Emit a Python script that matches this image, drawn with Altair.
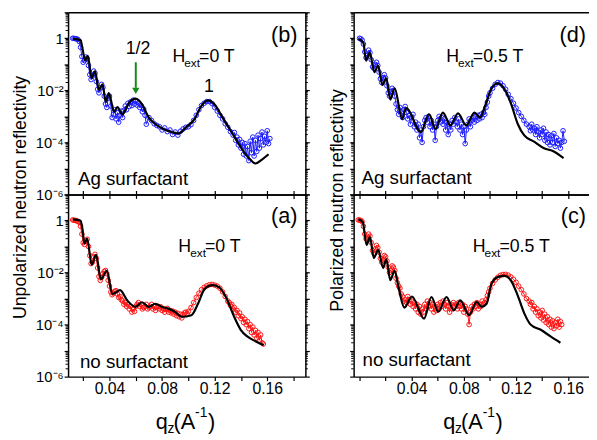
import altair as alt
import pandas as pd

FONT = "Liberation Sans"
BLUE = "#1c1cff"
RED = "#ff1414"
GREEN = "#168a16"

# ---------------- data (q in 1/A, reflectivity) ----------------
b_data = [
    (0.012, 1.0), (0.013, 0.99), (0.014, 0.97), (0.015, 0.95), (0.016, 0.9), (0.017, 0.75),
    (0.018, 0.45), (0.019, 0.2), (0.020, 0.12), (0.021, 0.14), (0.022, 0.19), (0.023, 0.17),
    (0.024, 0.09), (0.025, 0.04), (0.026, 0.026), (0.027, 0.035), (0.028, 0.055), (0.029, 0.045),
    (0.030, 0.022), (0.031, 0.011), (0.032, 0.008), (0.033, 0.012), (0.034, 0.017), (0.035, 0.013),
    (0.036, 0.006), (0.037, 0.003), (0.038, 0.0022), (0.039, 0.005), (0.040, 0.006), (0.041, 0.0025),
    (0.042, 0.0009), (0.043, 0.0012), (0.044, 0.0018), (0.045, 0.0008), (0.046, 0.0014), (0.047, 0.0006),
    (0.048, 0.0011), (0.049, 0.0016), (0.050, 0.0009), (0.051, 0.0017), (0.052, 0.0025), (0.053, 0.0018),
    (0.054, 0.0032), (0.055, 0.0024), (0.056, 0.0036), (0.057, 0.0026), (0.058, 0.0042), (0.059, 0.003),
    (0.060, 0.0038), (0.061, 0.0027), (0.062, 0.0033), (0.063, 0.0022), (0.064, 0.0026), (0.065, 0.0015),
    (0.066, 0.0019), (0.067, 0.0011), (0.068, 0.0005), (0.070, 0.0009), (0.072, 0.0007), (0.074, 0.00052),
    (0.076, 0.00045), (0.078, 0.0004), (0.080, 0.0003), (0.082, 0.00036), (0.084, 0.00026), (0.086, 0.0003),
    (0.088, 0.0002), (0.090, 0.00025), (0.092, 0.00019), (0.094, 0.00027), (0.096, 0.00033), (0.098, 0.00038),
    (0.100, 0.0004), (0.102, 0.00048), (0.104, 0.0007), (0.106, 0.0011), (0.108, 0.0018), (0.110, 0.0026),
    (0.112, 0.0032), (0.114, 0.0037), (0.116, 0.0037), (0.118, 0.0031), (0.120, 0.0022), (0.122, 0.0016),
    (0.124, 0.0011), (0.126, 0.0008), (0.128, 0.00052), (0.130, 0.00038), (0.132, 0.00026), (0.134, 0.00019),
    (0.135, 0.00024), (0.136, 0.00012), (0.137, 0.00016), (0.138, 0.00008), (0.139, 0.00013), (0.140, 0.00006),
    (0.141, 0.0001), (0.142, 0.000035), (0.143, 0.00009), (0.144, 0.00003), (0.145, 0.00007), (0.146, 0.00002),
    (0.147, 0.00011), (0.148, 0.00004), (0.149, 0.00016), (0.150, 0.00003), (0.151, 0.00012), (0.152, 0.000045),
    (0.153, 0.00019), (0.154, 0.00006), (0.155, 0.00014), (0.156, 0.00025), (0.157, 0.00008), (0.158, 0.00017),
    (0.159, 0.0001), (0.160, 0.00028), (0.161, 0.00009), (0.162, 0.00014),
]
b_fit = [
    (0.0122, 0.95), (0.0150, 0.93), (0.0180, 0.84), (0.0195, 0.4), (0.0215, 0.14), (0.0235, 0.21),
    (0.0265, 0.029), (0.0290, 0.054), (0.0320, 0.0105), (0.0347, 0.017), (0.0372, 0.0036), (0.0395, 0.0079),
    (0.0435, 0.0015), (0.0460, 0.0023), (0.0498, 0.0012), (0.0548, 0.0033), (0.0598, 0.0048), (0.0648, 0.0029),
    (0.0698, 0.00091), (0.0748, 0.00051), (0.0810, 0.00033), (0.0873, 0.00025), (0.0923, 0.00022),
    (0.0985, 0.00039), (0.1048, 0.0008), (0.1098, 0.0025), (0.1148, 0.0041), (0.1198, 0.0029),
    (0.1260, 0.00091), (0.1335, 0.00022), (0.1398, 0.000065), (0.1460, 0.000025), (0.1510, 0.0000155),
    (0.1560, 0.000022), (0.1610, 0.000035),
]

d_data = [
    (0.000, 1.0), (0.001, 0.95), (0.002, 0.85), (0.003, 0.6), (0.004, 0.3), (0.005, 0.18), (0.006, 0.22),
    (0.007, 0.35), (0.008, 0.28), (0.009, 0.15), (0.010, 0.08), (0.011, 0.07), (0.012, 0.1), (0.013, 0.12),
    (0.014, 0.09), (0.015, 0.05), (0.016, 0.028), (0.017, 0.02), (0.018, 0.03), (0.019, 0.04), (0.020, 0.03),
    (0.021, 0.015), (0.022, 0.008), (0.023, 0.006), (0.024, 0.009), (0.025, 0.012), (0.026, 0.01),
    (0.027, 0.006), (0.028, 0.003), (0.029, 0.0018), (0.030, 0.0012), (0.031, 0.0022), (0.032, 0.0015),
    (0.033, 0.0009), (0.034, 0.0018), (0.035, 0.0024), (0.036, 0.0014), (0.037, 0.0008), (0.038, 0.0011),
    (0.039, 0.0005), (0.040, 0.0009), (0.041, 0.0012), (0.042, 0.0004), (0.043, 0.0006), (0.044, 0.0003),
    (0.045, 0.0005), (0.046, 0.00015), (0.047, 0.0003), (0.048, 0.0001), (0.049, 0.0004), (0.050, 0.0007),
    (0.051, 0.0009), (0.052, 0.0006), (0.053, 0.001), (0.054, 0.0004), (0.055, 0.0007), (0.056, 0.0003),
    (0.057, 0.0005), (0.058, 0.00012), (0.059, 0.0004), (0.060, 0.0007), (0.061, 0.001), (0.062, 0.0006),
    (0.063, 0.0009), (0.064, 0.0005), (0.065, 0.0008), (0.066, 0.0003), (0.067, 0.0006), (0.068, 0.0002),
    (0.069, 0.0005), (0.070, 0.0003), (0.071, 0.0007), (0.072, 0.0005), (0.073, 0.0009), (0.074, 0.0006),
    (0.075, 0.0004), (0.076, 0.0008), (0.077, 0.0003), (0.078, 0.0005), (0.079, 0.0002), (0.080, 0.0004),
    (0.081, 0.00009), (0.082, 0.0003), (0.083, 0.0005), (0.084, 0.0008), (0.085, 0.0004), (0.086, 0.0007),
    (0.087, 0.0009), (0.088, 0.0006), (0.089, 0.001), (0.090, 0.0007), (0.091, 0.0011), (0.092, 0.0008),
    (0.093, 0.0012), (0.094, 0.0009), (0.095, 0.0014), (0.096, 0.0012), (0.097, 0.0022), (0.098, 0.0035),
    (0.099, 0.006), (0.100, 0.008), (0.102, 0.012), (0.104, 0.017), (0.106, 0.02), (0.108, 0.019),
    (0.110, 0.015), (0.112, 0.011), (0.114, 0.007), (0.116, 0.0048), (0.118, 0.0032), (0.120, 0.0021),
    (0.122, 0.0014), (0.124, 0.001), (0.126, 0.0007), (0.128, 0.0005), (0.130, 0.0004), (0.131, 0.00028),
    (0.132, 0.0005), (0.133, 0.0003), (0.134, 0.00035), (0.135, 0.0002), (0.136, 0.0004), (0.137, 0.00025),
    (0.138, 0.00015), (0.139, 0.0003), (0.140, 0.0002), (0.141, 0.00035), (0.142, 0.00012), (0.143, 0.00025),
    (0.144, 0.0001), (0.145, 0.0002), (0.146, 0.00008), (0.147, 0.00018), (0.148, 0.0001), (0.149, 0.00022),
    (0.150, 0.00007), (0.151, 0.00015), (0.152, 0.00009), (0.153, 0.00012), (0.154, 0.00006), (0.155, 0.0001),
    (0.156, 0.00028), (0.157, 0.00011),
]
d_fit = [
    (-0.0008, 0.94), (0.0030, 0.67), (0.0050, 0.137), (0.0079, 0.28), (0.0114, 0.05), (0.0143, 0.09),
    (0.0176, 0.016), (0.0206, 0.029), (0.0236, 0.0044), (0.0269, 0.012), (0.0327, 0.0008), (0.0357, 0.0021),
    (0.0470, 0.00025), (0.0533, 0.0012), (0.0583, 0.00033), (0.0639, 0.0014), (0.0697, 0.00045),
    (0.0755, 0.0013), (0.0818, 0.00045), (0.0881, 0.0014), (0.0924, 0.0009), (0.0962, 0.0025),
    (0.1012, 0.012), (0.1062, 0.0186), (0.1113, 0.0105), (0.1163, 0.0029), (0.1213, 0.00051),
    (0.1263, 0.000186), (0.1338, 0.000107), (0.1414, 0.00006), (0.1489, 0.000045), (0.1564, 0.000025),
]

a_data = [
    (0.012, 1.05), (0.013, 1.02), (0.014, 1.0), (0.015, 0.97), (0.016, 0.93), (0.017, 0.85), (0.018, 0.6),
    (0.019, 0.3), (0.020, 0.14), (0.021, 0.12), (0.022, 0.17), (0.023, 0.19), (0.024, 0.1), (0.025, 0.045),
    (0.026, 0.022), (0.027, 0.025), (0.028, 0.04), (0.029, 0.05), (0.030, 0.035), (0.031, 0.015),
    (0.032, 0.007), (0.033, 0.005), (0.034, 0.0065), (0.035, 0.009), (0.036, 0.011), (0.037, 0.012),
    (0.038, 0.009), (0.039, 0.005), (0.040, 0.003), (0.041, 0.0018), (0.042, 0.0014), (0.043, 0.0016),
    (0.044, 0.0019), (0.045, 0.002), (0.046, 0.0015), (0.047, 0.0011), (0.048, 0.0012), (0.049, 0.0009),
    (0.050, 0.0008), (0.051, 0.0006), (0.052, 0.0007), (0.053, 0.0005), (0.054, 0.0006), (0.055, 0.0004),
    (0.056, 0.0005), (0.057, 0.0003), (0.058, 0.0004), (0.059, 0.00032), (0.060, 0.0005), (0.061, 0.0006),
    (0.062, 0.0007), (0.063, 0.0005), (0.064, 0.0006), (0.065, 0.0004), (0.066, 0.00045), (0.067, 0.0005),
    (0.068, 0.0006), (0.069, 0.0004), (0.070, 0.00045), (0.071, 0.0005), (0.072, 0.0006), (0.073, 0.0004),
    (0.074, 0.0005), (0.075, 0.00035), (0.076, 0.00045), (0.077, 0.0005), (0.078, 0.0004), (0.079, 0.00048),
    (0.080, 0.00035), (0.081, 0.0004), (0.082, 0.0003), (0.083, 0.00038), (0.084, 0.00042), (0.085, 0.0003),
    (0.086, 0.00035), (0.087, 0.00028), (0.088, 0.00033), (0.089, 0.00025), (0.090, 0.0003), (0.091, 0.00022),
    (0.092, 0.00027), (0.093, 0.0002), (0.094, 0.00025), (0.095, 0.00018), (0.096, 0.00024), (0.097, 0.00028),
    (0.098, 0.0003), (0.099, 0.00026), (0.100, 0.00032), (0.102, 0.00045), (0.104, 0.0007), (0.106, 0.0011),
    (0.108, 0.0016), (0.110, 0.0022), (0.112, 0.0027), (0.114, 0.0031), (0.116, 0.0034), (0.118, 0.0035),
    (0.120, 0.0033), (0.122, 0.003), (0.124, 0.0025), (0.126, 0.0018), (0.128, 0.0012), (0.130, 0.0008),
    (0.131, 0.0007), (0.132, 0.00055), (0.133, 0.0006), (0.134, 0.0004), (0.135, 0.00045), (0.136, 0.0003),
    (0.137, 0.00035), (0.138, 0.00022), (0.139, 0.00028), (0.140, 0.00017), (0.141, 0.0002), (0.142, 0.00012),
    (0.143, 0.00016), (0.144, 0.0001), (0.145, 0.00013), (0.146, 0.00007), (0.147, 0.0001), (0.148, 0.00005),
    (0.149, 0.00008), (0.150, 0.00004), (0.151, 0.00006), (0.152, 0.00003), (0.153, 0.00005), (0.154, 0.000025),
    (0.155, 0.00004), (0.156, 0.00002), (0.157, 0.000018),
]
a_fit = [
    (0.0122, 1.1), (0.0180, 0.98), (0.0195, 0.45), (0.0210, 0.13), (0.0230, 0.2), (0.0265, 0.02),
    (0.0298, 0.048), (0.0335, 0.0055), (0.0380, 0.0115), (0.0423, 0.0015), (0.0480, 0.0021),
    (0.0535, 0.00085), (0.0598, 0.00048), (0.0648, 0.00072), (0.0698, 0.00048), (0.0748, 0.00063),
    (0.0798, 0.00048), (0.0848, 0.00041), (0.0898, 0.00031), (0.0948, 0.0002), (0.1023, 0.00023),
    (0.1073, 0.00063), (0.1123, 0.0023), (0.1185, 0.0033), (0.1235, 0.0027), (0.1285, 0.00115),
    (0.1348, 0.0002), (0.1398, 0.000063), (0.1448, 0.000035), (0.1510, 0.000023), (0.1573, 0.000016),
]

c_data = [
    (-0.001, 1.05), (0.000, 1.03), (0.001, 1.0), (0.002, 0.9), (0.003, 0.6), (0.004, 0.3), (0.005, 0.2),
    (0.006, 0.18), (0.007, 0.3), (0.008, 0.25), (0.009, 0.14), (0.010, 0.07), (0.011, 0.055), (0.012, 0.08),
    (0.013, 0.11), (0.014, 0.09), (0.015, 0.06), (0.016, 0.035), (0.017, 0.025), (0.018, 0.03), (0.019, 0.045),
    (0.020, 0.04), (0.021, 0.028), (0.022, 0.016), (0.023, 0.01), (0.024, 0.012), (0.025, 0.018),
    (0.026, 0.016), (0.027, 0.012), (0.028, 0.006), (0.029, 0.004), (0.030, 0.003), (0.031, 0.0025),
    (0.032, 0.0015), (0.033, 0.0012), (0.034, 0.0008), (0.035, 0.0009), (0.036, 0.0007), (0.037, 0.0012),
    (0.038, 0.0009), (0.039, 0.0006), (0.040, 0.0008), (0.041, 0.0005), (0.042, 0.0007), (0.043, 0.0004),
    (0.044, 0.0006), (0.045, 0.0003), (0.046, 0.0005), (0.047, 0.00025), (0.048, 0.0004), (0.049, 0.0003),
    (0.050, 0.0006), (0.051, 0.0004), (0.052, 0.0008), (0.053, 0.0005), (0.054, 0.0007), (0.055, 0.0004),
    (0.056, 0.0006), (0.057, 0.0003), (0.058, 0.0005), (0.059, 0.00035), (0.060, 0.0006), (0.061, 0.0004),
    (0.062, 0.0007), (0.063, 0.0005), (0.064, 0.0008), (0.065, 0.0006), (0.066, 0.0004), (0.067, 0.0007),
    (0.068, 0.0005), (0.069, 0.0003), (0.070, 0.0006), (0.071, 0.0004), (0.072, 0.0007), (0.073, 0.0005),
    (0.074, 0.0006), (0.075, 0.0004), (0.076, 0.0007), (0.077, 0.0005), (0.078, 0.0004), (0.079, 0.0006),
    (0.080, 0.0003), (0.081, 0.0005), (0.082, 0.0004), (0.083, 0.00025), (0.084, 0.0001), (0.085, 0.0003),
    (0.086, 0.0005), (0.087, 0.0004), (0.088, 0.0006), (0.089, 0.0005), (0.090, 0.0007), (0.091, 0.0004),
    (0.092, 0.0006), (0.093, 0.0005), (0.094, 0.0008), (0.095, 0.0006), (0.096, 0.0007), (0.097, 0.0009),
    (0.098, 0.0013), (0.099, 0.0018), (0.100, 0.0025), (0.102, 0.0038), (0.104, 0.0052), (0.106, 0.0066),
    (0.108, 0.0078), (0.110, 0.0084), (0.112, 0.0085), (0.114, 0.0079), (0.116, 0.0068), (0.118, 0.0055),
    (0.120, 0.0042), (0.122, 0.003), (0.124, 0.0022), (0.126, 0.0015), (0.128, 0.001), (0.130, 0.0008),
    (0.131, 0.0006), (0.132, 0.0007), (0.133, 0.0004), (0.134, 0.0005), (0.135, 0.0003), (0.136, 0.0004),
    (0.137, 0.00022), (0.138, 0.0003), (0.139, 0.00018), (0.140, 0.00035), (0.141, 0.00015), (0.142, 0.00025),
    (0.143, 0.00012), (0.144, 0.0002), (0.145, 0.0001), (0.146, 0.00016), (0.147, 0.00008), (0.148, 0.00014),
    (0.149, 0.00007), (0.150, 0.00012), (0.151, 0.00009), (0.152, 0.00016), (0.153, 0.00008), (0.154, 0.00013),
    (0.155, 0.0001),
]
c_fit = [
    (-0.0008, 1.1), (0.0025, 0.87), (0.0054, 0.115), (0.0080, 0.23), (0.0110, 0.036), (0.0143, 0.074),
    (0.0181, 0.015), (0.0206, 0.032), (0.0236, 0.0051), (0.0269, 0.0115), (0.0302, 0.0023), (0.0344, 0.00045),
    (0.0402, 0.0012), (0.0495, 0.00017), (0.0551, 0.00115), (0.0604, 0.00031), (0.0667, 0.00115),
    (0.0722, 0.00035), (0.0772, 0.00085), (0.0840, 0.00023), (0.0898, 0.00074), (0.0936, 0.00048),
    (0.0974, 0.00063), (0.1011, 0.0036), (0.1062, 0.0068), (0.1112, 0.0074), (0.1162, 0.0048),
    (0.1213, 0.0013), (0.1263, 0.00027), (0.1313, 0.000098), (0.1389, 0.000063), (0.1464, 0.000035),
    (0.1540, 0.00002),
]

# axis tick values / labels
Y_TICKS = [1e-6, 1e-5, 1e-4, 1e-3, 1e-2, 1e-1, 1, 10]
Y_MINOR_MANTISSA = [2, 3, 4, 5, 6, 7, 8, 9]
Y_MINOR_DECADES = [1e-6, 1e-5, 1e-4, 1e-3, 1e-2, 1e-1, 1]
X_TICKS_LEFT = [0.02, 0.04, 0.06, 0.08, 0.10, 0.12, 0.14, 0.16, 0.18]
X_TICKS_RIGHT = [0.0, 0.02, 0.04, 0.06, 0.08, 0.10, 0.12, 0.14, 0.16]
X_LABELED = [0.04, 0.08, 0.12, 0.16]

LEFT_DOMAIN = [0.0085, 0.189]
RIGHT_DOMAIN = [-0.0045, 0.1759]
Y_DOMAIN = [1e-6, 10]
LW, RW, H = 241, 239, 185

Y_LABEL_EXPR = ("datum.value == 1 ? '1' : datum.value == 0.01 ? '10⁻²' : "
                "datum.value == 0.0001 ? '10⁻⁴' : datum.value == 0.000001 ? '10⁻⁶' : ''")
X_LABEL_EXPR = "indexof(%s, datum.value) >= 0 ? format(datum.value, '.2f') : ''" % str(X_LABELED)

MINOR_TICKS = pd.DataFrame({"y": [m * d for d in Y_MINOR_DECADES for m in Y_MINOR_MANTISSA]})


def txt(s, x, y, size, align="left", angle=None, color="black"):
    kw = dict(align=align, baseline="alphabetic", fontSize=size, font=FONT, color=color)
    if angle is not None:
        kw["angle"] = angle
    return alt.Chart(pd.DataFrame({"t": [s]})).mark_text(**kw).encode(
        x=alt.value(x), y=alt.value(y), text="t:N")


def h_label(x, y, value):
    return [txt("H", x, y, 18), txt("ext", x + 12, y + 6, 12), txt(value, x + 27, y, 18)]


def q_title(x, y):
    return [txt("q", x, y, 22), txt("z", x + 12, y + 4, 14), txt("(A", x + 18, y, 22),
            txt("-1", x + 40, y - 12, 14), txt(")", x + 53, y, 22)]


def minor_ticks(ys, x0, x1):
    return alt.Chart(MINOR_TICKS).mark_rule(color="black", strokeWidth=1).encode(
        y=alt.Y("y:Q", scale=ys, axis=None), x=alt.value(x0), x2=alt.value(x1))


def panel(data, fit, color, right_col, bottom_row, extras):
    df = pd.DataFrame(data, columns=["q", "R"])
    fdf = pd.DataFrame(fit, columns=["q", "R"])
    xdom = RIGHT_DOMAIN if right_col else LEFT_DOMAIN
    xticks = X_TICKS_RIGHT if right_col else X_TICKS_LEFT
    width = RW if right_col else LW
    xs = alt.Scale(domain=xdom, nice=False, zero=False)
    ys = alt.Scale(type="log", domain=Y_DOMAIN, nice=False)

    if bottom_row:
        xb = alt.Axis(orient="bottom", values=xticks, labelExpr=X_LABEL_EXPR, title=None,
                      labelFontSize=16, labelPadding=0, tickSize=4, labelFlush=False)
        xt = alt.Axis(orient="top", values=xticks, labels=False, title=None, tickSize=4)
    else:
        xb = alt.Axis(orient="bottom", values=xticks, labels=False, title=None, tickSize=4)
        xt = alt.Axis(orient="top", values=xticks, labels=False, title=None, ticks=False)
    if right_col:
        yl = alt.Axis(orient="left", values=Y_TICKS, labels=False, title=None, tickSize=4)
        yr = None
    else:
        yl = alt.Axis(orient="left", values=Y_TICKS, labelExpr=Y_LABEL_EXPR, title=None,
                      labelFontSize=15, labelPadding=1, tickSize=4, labelFlush=False)
        yr = alt.Axis(orient="right", values=Y_TICKS, labels=False, title=None, tickSize=4)

    line = alt.Chart(df).mark_line(color=color, strokeWidth=1, clip=True).encode(
        x=alt.X("q:Q", scale=xs, axis=xb), y=alt.Y("R:Q", scale=ys, axis=yl))
    pts = alt.Chart(df).mark_point(shape="circle", filled=False, color=color, size=22,
                                   strokeWidth=1, opacity=1, clip=True).encode(
        x=alt.X("q:Q", scale=xs, axis=xt), y=alt.Y("R:Q", scale=ys, axis=yr))
    fitl = alt.Chart(fdf).mark_line(color="black", strokeWidth=2.2, interpolate="monotone",
                                    clip=True).encode(
        x=alt.X("q:Q", scale=xs, axis=None), y=alt.Y("R:Q", scale=ys, axis=None))
    layers = [line, pts, fitl, minor_ticks(ys, -2.5, 0)]
    if not right_col:
        layers.append(minor_ticks(ys, width, width + 2.5))
    for e in extras:
        if callable(e):
            layers.append(e(xs, ys))
        else:
            layers.append(e)
    return alt.layer(*layers).resolve_axis(x="independent", y="independent").properties(
        width=width, height=H)


ARROW_Q = [0.060]
ARROW_TOP = [0.12]
ARROW_END = [0.0125]
ARROW_TIP = [0.0095]


def arrow_rule(xs, ys):
    return alt.Chart(pd.DataFrame({"q": ARROW_Q, "y1": ARROW_TOP, "y2": ARROW_END})).mark_rule(
        color=GREEN, strokeWidth=2).encode(
        x=alt.X("q:Q", scale=xs, axis=None), y=alt.Y("y1:Q", scale=ys, axis=None), y2="y2:Q")


def arrow_head(xs, ys):
    return alt.Chart(pd.DataFrame({"q": ARROW_Q, "y": ARROW_TIP})).mark_point(
        shape="triangle-down", filled=True, color=GREEN, size=55, opacity=1).encode(
        x=alt.X("q:Q", scale=xs, axis=None), y=alt.Y("y:Q", scale=ys, axis=None))


b_extras = [
    txt("(b)", 233, 30, 22, align="right"),
    txt("1/2", 71, 42, 18, align="center"),
    txt("1", 143, 81, 18, align="center"),
    *h_label(106, 50, "=0 T"),
    txt("Ag surfactant", 10, H - 10, 19),
    txt("Unpolarized neutron reflectivity", -43, 188, 18, align="center", angle=270),
    arrow_rule, arrow_head,
]
d_extras = [
    txt("(d)", 236, 30, 22, align="right"),
    *h_label(94, 50, "=0.5 T"),
    txt("Ag surfactant", 8, H - 11, 19),
    txt("Polarized neutron reflectivity", -11, 191, 18, align="center", angle=270),
]
a_extras = [
    txt("(a)", 233, 29, 22, align="right"),
    *h_label(112, 58, "=0 T"),
    txt("no surfactant", 12, H - 9, 19),
    *q_title(89, H + 53),
]
c_extras = [
    txt("(c)", 236, 29, 22, align="right"),
    *h_label(121, 58, "=0.5 T"),
    txt("no surfactant", 9, H - 11, 19),
    *q_title(91, H + 53),
]

pb = panel(b_data, b_fit, BLUE, False, False, b_extras)
pd_ = panel(d_data, d_fit, BLUE, True, False, d_extras)
pa = panel(a_data, a_fit, RED, False, True, a_extras)
pc = panel(c_data, c_fit, RED, True, True, c_extras)

chart = alt.concat(pb, pd_, pa, pc, columns=2, spacing={"row": 0, "column": 49},
                   bounds="flush").properties(
    padding={"left": 3, "top": 0, "right": 0, "bottom": 0}
).configure_view(strokeOpacity=0).configure_axis(
    domainColor="black", domainWidth=1.5, tickColor="black", tickWidth=1.2,
    labelFont=FONT, labelColor="black", grid=False
)

chart.save("out.html", embed_options={"renderer": "svg", "actions": False})
